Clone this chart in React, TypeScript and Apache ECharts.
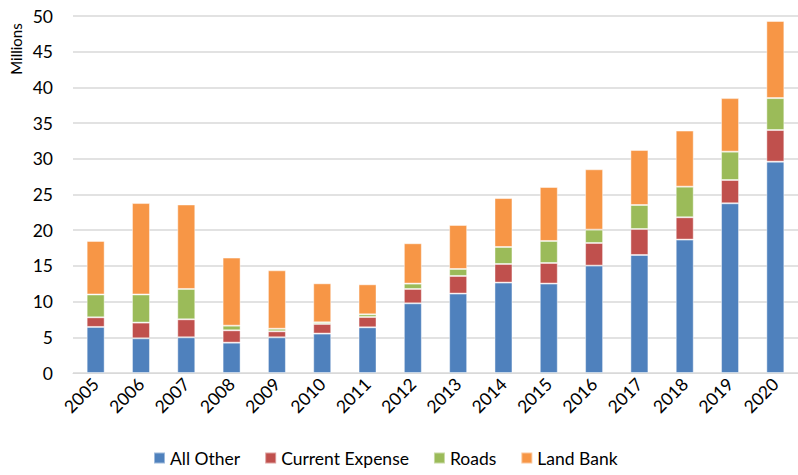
import React, { useEffect, useRef } from "react";
import * as echarts from "echarts";

const years = ["2005","2006","2007","2008","2009","2010","2011","2012","2013","2014","2015","2016","2017","2018","2019","2020"];
const allOther = [6.45, 4.86, 5.0, 4.25, 5.0, 5.52, 6.4, 9.76, 11.12, 12.66, 12.52, 15.04, 16.53, 18.68, 23.77, 29.6];
const currentExpense = [1.35, 2.2, 2.52, 1.73, 0.84, 1.35, 1.44, 2.01, 2.47, 2.61, 2.89, 3.17, 3.64, 3.13, 3.26, 4.43];
const roads = [3.2, 3.94, 4.25, 0.65, 0.36, 0.23, 0.38, 0.75, 0.98, 2.38, 3.08, 1.87, 3.36, 4.29, 3.97, 4.47];
const landBank = [7.5, 12.8, 11.83, 9.53, 8.18, 5.46, 4.2, 5.65, 6.16, 6.85, 7.56, 8.45, 7.7, 7.85, 7.5, 10.8];
const yTicks = { min: 0, max: 50, interval: 5 };

const FONT = "Lato";

export default function App() {
  const ref = useRef<HTMLDivElement>(null);
  useEffect(() => {
    const chart = echarts.init(ref.current!, undefined, { renderer: "svg" });
    const mk = (name: string, data: number[], color: string) => ({
      name,
      type: "bar",
      stack: "total",
      data,
      barWidth: 18,
      itemStyle: { color, borderColor: "rgba(255,255,255,0.45)", borderWidth: 1 },
    });
    chart.setOption({
      animation: false,
      textStyle: { fontFamily: FONT },
      grid: { left: 73, top: 16, width: 729, height: 357, containLabel: false },
      graphic: [
        {
          type: "text",
          x: 16,
          y: 49,
          rotation: Math.PI / 2,
          style: { text: "Millions", fontFamily: FONT, fontSize: 15, fill: "#000", align: "center", verticalAlign: "middle" },
        },
      ],
      legend: {
        bottom: 3,
        left: 148,
        itemWidth: 11,
        itemHeight: 11,
        itemGap: 24,
        icon: "rect",
        textStyle: { fontFamily: FONT, fontSize: 17.5, color: "#000" },
        data: ["All Other", "Current Expense", "Roads", "Land Bank"],
      },
      xAxis: {
        type: "category",
        data: years,
        axisTick: { show: false },
        axisLine: { lineStyle: { color: "#d9d9d9" } },
        axisLabel: { rotate: 45, fontSize: 17.5, color: "#000", fontFamily: FONT, margin: 8, interval: 0 },
      },
      yAxis: {
        type: "value",
        min: yTicks.min,
        max: yTicks.max,
        interval: yTicks.interval,
        axisLabel: { fontSize: 17.5, color: "#000", fontFamily: FONT, margin: 20 },
        splitLine: { lineStyle: { color: "#d9d9d9", width: 1.5 } },
        axisLine: { show: false },
        axisTick: { show: false },
      },
      series: [
        mk("All Other", allOther, "#4f81bd"),
        mk("Current Expense", currentExpense, "#c0504d"),
        mk("Roads", roads, "#9bbb59"),
        mk("Land Bank", landBank, "#f79646"),
      ],
    });
    return () => chart.dispose();
  }, []);
  return <div ref={ref} style={{ width: 798, height: 475, position: "absolute", left: 0, top: 0 }} />;
}
